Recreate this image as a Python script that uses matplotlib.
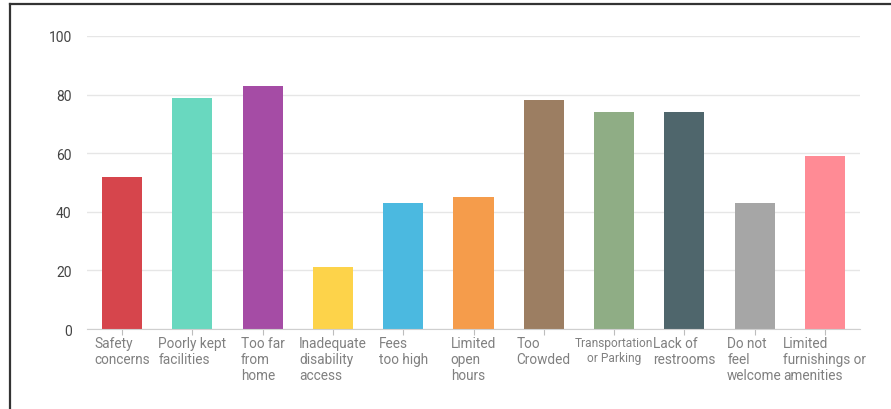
import matplotlib
matplotlib.use("Agg")
import matplotlib.pyplot as plt
from matplotlib.lines import Line2D

plt.rcParams["font.family"] = ["Roboto", "DejaVu Sans"]

categories = [
    "Safety\nconcerns",
    "Poorly kept\nfacilities",
    "Too far\nfrom\nhome",
    "Inadequate\ndisability\naccess",
    "Fees\ntoo high",
    "Limited\nopen\nhours",
    "Too\nCrowded",
    "Transportation\nor Parking",
    "Lack of\nrestrooms",
    "Do not\nfeel\nwelcome",
    "Limited\nfurnishings or\namenities",
]
values = [52, 79, 83, 21, 43, 45, 78, 74, 74, 43, 59]
colors = [
    "#D6454C", "#69D8BF", "#A54CA5", "#FDD34A", "#4BB9E0", "#F59C4B",
    "#9C7E62", "#8FAD85", "#4F666C", "#A6A6A6", "#FF8B95",
]
yticks = [0, 20, 40, 60, 80, 100]

fig = plt.figure(figsize=(8.91, 4.10), dpi=100)
ax = fig.add_axes([87 / 891, 1 - 330 / 410, (860 - 87) / 891, (330 - 37) / 410])

x = list(range(len(categories)))
ax.bar(x, values, width=0.57, color=colors, zorder=3)

ax.set_xlim(-0.5, len(categories) - 0.5)
ax.set_ylim(0, 100)
ax.set_yticks(yticks)
ax.grid(axis="y", color="#E6E6E6", linewidth=1, zorder=0)

for side in ["top", "right", "left"]:
    ax.spines[side].set_visible(False)
ax.spines["bottom"].set_color("#CFCFCF")
ax.spines["bottom"].set_zorder(4)

ax.set_xticks(x)
ax.set_xticklabels(categories, fontsize=9.8, color="#808080", va="top",
                   linespacing=1.2)
for lbl in ax.get_xticklabels():
    if lbl.get_text().startswith("Transp"):
        # long word, drawn a bit smaller so it fits its slot
        lbl.set_fontsize(8.6)
        lbl.set_multialignment("center")
    else:
        lbl.set_multialignment("left")
ax.tick_params(axis="x", length=4, color="#BDBDBD", pad=1)
ax.tick_params(axis="y", length=0, pad=11, labelsize=10, labelcolor="#444444")

# outer frame (top and left edges)
fig.add_artist(Line2D([10 / 891, 10 / 891], [-0.1, 1 - 5 / 410],
                      transform=fig.transFigure, color="#333333", linewidth=1.6))
fig.add_artist(Line2D([10 / 891, 1.1], [1 - 5 / 410, 1 - 5 / 410],
                      transform=fig.transFigure, color="#333333", linewidth=1.6))

fig.savefig("out.png", dpi=100)
